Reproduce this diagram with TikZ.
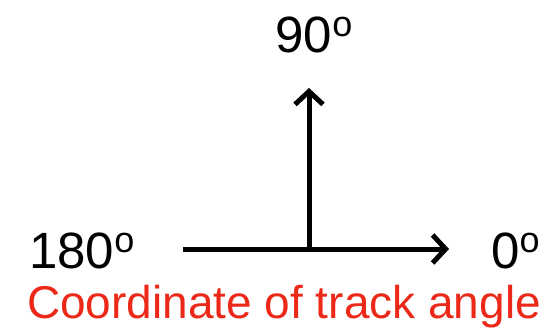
\documentclass[tikz,border=0pt]{standalone}
\usepackage{fontspec}
\setmainfont{Liberation Sans}
\usetikzlibrary{arrows.meta}
\definecolor{capred}{RGB}{236,40,24}
\newcommand\ordo{\raisebox{16pt}{\fontsize{36}{36}\selectfont o}}
\tikzset{
  lbl/.style={inner sep=0pt, font=\fontsize{51}{51}\selectfont},
  captext/.style={inner sep=0pt, text=capred, font=\fontsize{46}{46}\selectfont},
  axis/.style={line width=5pt, -{Straight Barb[length=13pt,width=28pt,line width=5pt]}}
}
\begin{document}
\begin{tikzpicture}[x=1pt,y=-1pt]
\useasboundingbox (0,0) rectangle (551,332);
\coordinate (west) at (183,249);
\coordinate (east) at (449,249);
\coordinate (mid) at (309,249);
\coordinate (north) at (309,88);
\draw[axis] (west) -- (east);
\draw[axis] (mid) -- (north);
\node[lbl, anchor=base west] (l180) at (29,268) {180\ordo};
\node[lbl, anchor=base west] (l0) at (491,268) {0\ordo};
\node[lbl, anchor=base] (l90) at (314,52) {90\ordo};
\node[captext, anchor=base] (title) at (284,318) {Coordinate of track angle};
\end{tikzpicture}
\end{document}
